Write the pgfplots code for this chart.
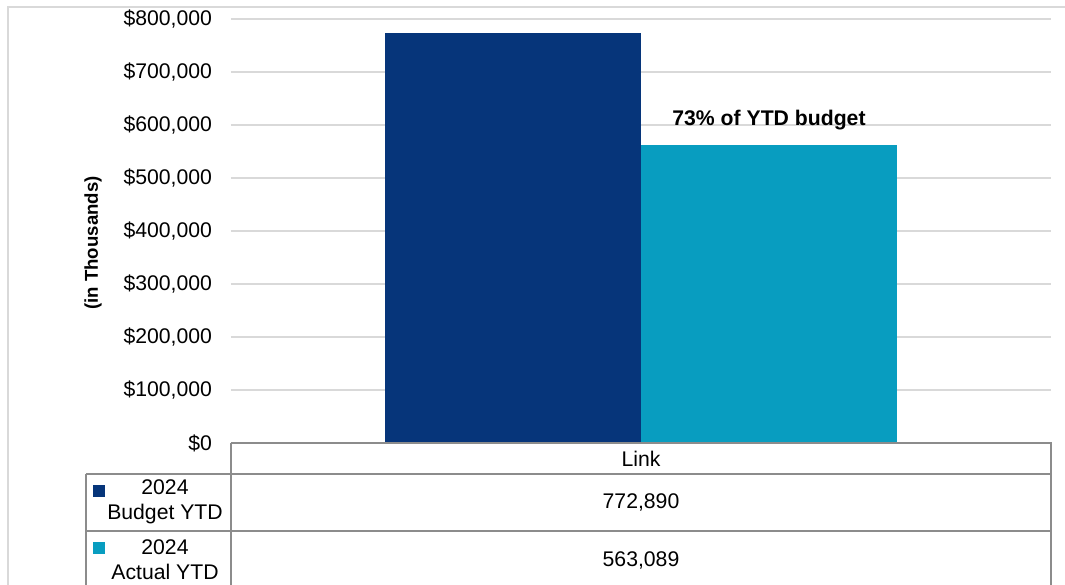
\documentclass[border=0pt]{standalone}
\usepackage{pgfplots}
\pgfplotsset{compat=1.18}
\usepackage{fontspec}
\setmainfont{Liberation Sans}
\definecolor{budget}{RGB}{6,53,122}
\definecolor{actual}{RGB}{8,157,192}
\definecolor{gridc}{RGB}{217,217,217}
\definecolor{tabc}{RGB}{140,140,140}
\begin{document}
\begin{tikzpicture}[x=1pt,y=1pt]
\useasboundingbox (-115.5,-70.5) rectangle (417,221.5);
\begin{scope}
\clip (-115.5,-70.5) rectangle (417,221.5);
\draw[gridc, line width=0.6pt] (-111.5,-100) rectangle (440,218);
\end{scope}
\begin{axis}[at={(0,0)}, anchor=south west, scale only axis,
  width=410pt, height=212pt,
  xmin=0, xmax=820, ymin=0, ymax=800000,
  axis line style={draw=none}, xtick=\empty,
  ytick={0,100000,200000,300000,400000,500000,600000,700000,800000},
  scaled y ticks=false,
  ymajorgrids, grid style={gridc, line width=0.6pt}, major tick length=0pt,
  yticklabel={\$\pgfmathprintnumber[fixed,1000 sep={,},assume math mode=true]{\tick}},
  yticklabel style={font=\fontsize{10.6}{12}\selectfont, xshift=-6pt},
  ybar, bar width=256,
  clip=false]
\addplot[fill=budget, draw=none, bar shift=0pt] coordinates {(282,772890)};
\addplot[fill=actual, draw=none, bar shift=0pt] coordinates {(538,563089)};
\node[font=\bfseries\fontsize{10.6}{12}\selectfont] at (axis cs:538,610000) {73\% of YTD budget};
\end{axis}
\node[rotate=90, font=\bfseries\fontsize{9.3}{11}\selectfont] at (-69,100) {(in Thousands)};
\begin{scope}
\clip (-115.5,-70.5) rectangle (417,221.5);
\draw[tabc, line width=0.6pt] (0,0) -- (410,0) -- (410,-80);
\draw[tabc, line width=0.6pt] (0,0) -- (0,-80);
\draw[tabc, line width=0.6pt] (-72.5,-15.5) -- (410,-15.5);
\draw[tabc, line width=0.6pt] (-72.5,-44) -- (410,-44);
\draw[tabc, line width=0.6pt] (-72.5,-15.5) -- (-72.5,-80);
\end{scope}
\node[font=\fontsize{10.6}{12}\selectfont] at (205,-7.75) {Link};
\node[font=\fontsize{10.6}{12}\selectfont] at (205,-29.5) {772,890};
\node[font=\fontsize{10.6}{12}\selectfont] at (205,-58.5) {563,089};
\node[font=\fontsize{10.6}{12.5}\selectfont, align=center] at (-33,-29.5) {2024\\Budget YTD};
\node[font=\fontsize{10.6}{12.5}\selectfont, align=center] at (-33,-58.2) {2024\\Actual YTD};
\fill[budget] (-69,-27) rectangle (-63,-21);
\fill[actual] (-69,-55.5) rectangle (-63,-49.5);
\end{tikzpicture}
\end{document}
